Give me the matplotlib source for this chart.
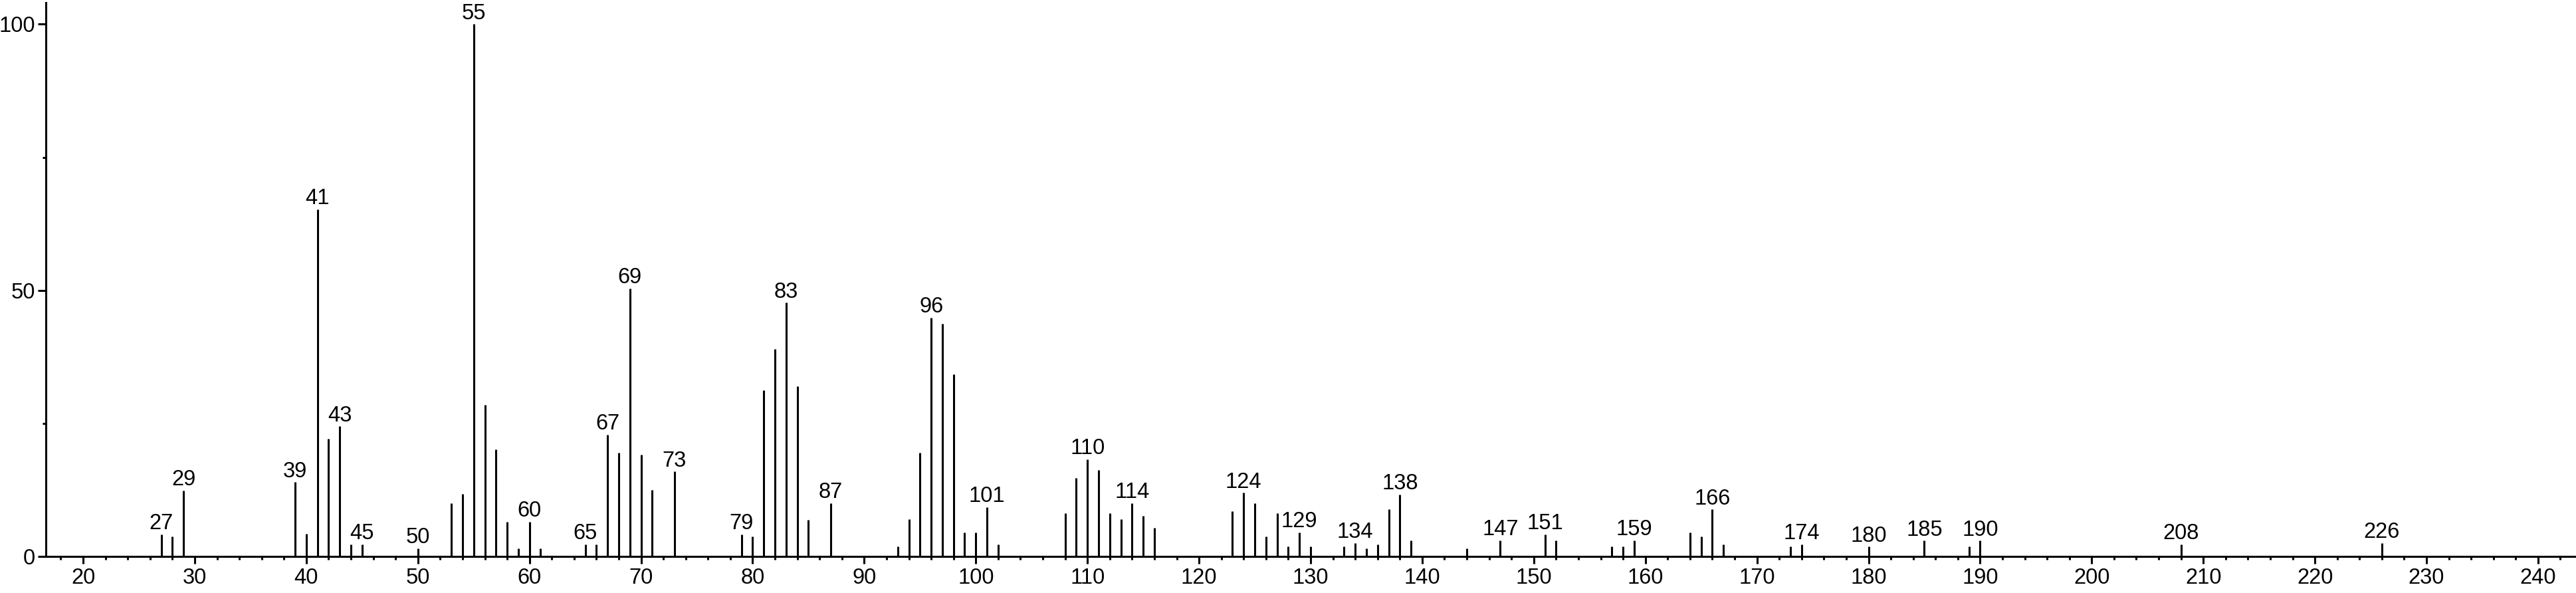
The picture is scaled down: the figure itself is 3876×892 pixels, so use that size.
import matplotlib.pyplot as plt

plt.rcParams['font.family'] = ['Liberation Sans', 'DejaVu Sans']

# m/z values and relative intensities
mz = [27, 28, 29, 39, 40, 41, 42, 43, 44, 45, 50, 53, 54, 55, 56, 57, 58, 59, 60, 61,
      65, 66, 67, 68, 69, 70, 71, 73, 79, 80, 81, 82, 83, 84, 85, 87,
      93, 94, 95, 96, 97, 98, 99, 100, 101, 102,
      108, 109, 110, 111, 112, 113, 114, 115, 116,
      123, 124, 125, 126, 127, 128, 129, 130,
      133, 134, 135, 136, 137, 138, 139, 144, 147, 151, 152,
      157, 158, 159, 164, 165, 166, 167, 173, 174, 180, 185, 189, 190, 208, 226]
intensity = [4.2, 3.8, 12.4, 14.0, 4.3, 65.2, 22.2, 24.5, 2.3, 2.3, 1.6, 10.1, 11.8, 100, 28.5, 20.2, 6.6, 1.6, 6.6, 1.6,
             2.3, 2.3, 22.9, 19.5, 50.4, 19.1, 12.5, 16.0, 4.2, 3.8, 31.3, 39.0, 47.7, 32.0, 6.9, 10.1,
             1.9, 7.0, 19.5, 44.9, 43.8, 34.3, 4.6, 4.6, 9.3, 2.3,
             8.2, 14.8, 18.3, 16.3, 8.2, 7.0, 10.1, 7.7, 5.4,
             8.6, 12.0, 10.1, 3.8, 8.2, 1.9, 4.6, 1.9,
             1.9, 2.6, 1.6, 2.3, 8.9, 11.7, 3.1, 1.6, 3.1, 4.2, 3.1,
             1.9, 1.9, 3.1, 4.6, 3.8, 8.9, 2.3, 1.9, 2.3, 1.9, 3.0, 1.9, 3.0, 2.3, 2.6]
labelled = [27, 29, 39, 41, 43, 45, 50, 55, 60, 65, 67, 69, 73, 79, 83, 87, 96, 101,
            110, 114, 124, 129, 134, 138, 147, 151, 159, 166, 174, 180, 185, 190, 208, 226]

fig = plt.figure(figsize=(38.76, 8.92), dpi=100)
ax = fig.add_axes([0.0178, 0.0611, 0.9822, 0.934])

ax.vlines(mz, 0, intensity, color='black', linewidth=2.2)

for m, h in zip(mz, intensity):
    if m in labelled:
        ax.annotate(str(m), (m, h), xytext=(0, 0.5), textcoords='offset points',
                    ha='center', va='bottom', fontsize=23.5)

ax.set_xlim(16.66, 243.4)
ax.set_ylim(0, 104)
ax.set_xticks(range(20, 241, 10))
ax.set_xticks(range(18, 244, 2), minor=True)
ax.set_yticks([0, 50, 100])
ax.set_yticks([25, 75], minor=True)

for s in ['top', 'right']:
    ax.spines[s].set_visible(False)
for s in ['left', 'bottom']:
    ax.spines[s].set_linewidth(2.2)

ax.tick_params(axis='x', which='major', length=8, width=2.2, labelsize=23.5, pad=4)
ax.tick_params(axis='y', which='major', length=8.6, width=2.2, labelsize=23.5, pad=3)
ax.tick_params(axis='both', which='minor', length=3.8, width=2.2)

fig.savefig('out.png', dpi=100)
